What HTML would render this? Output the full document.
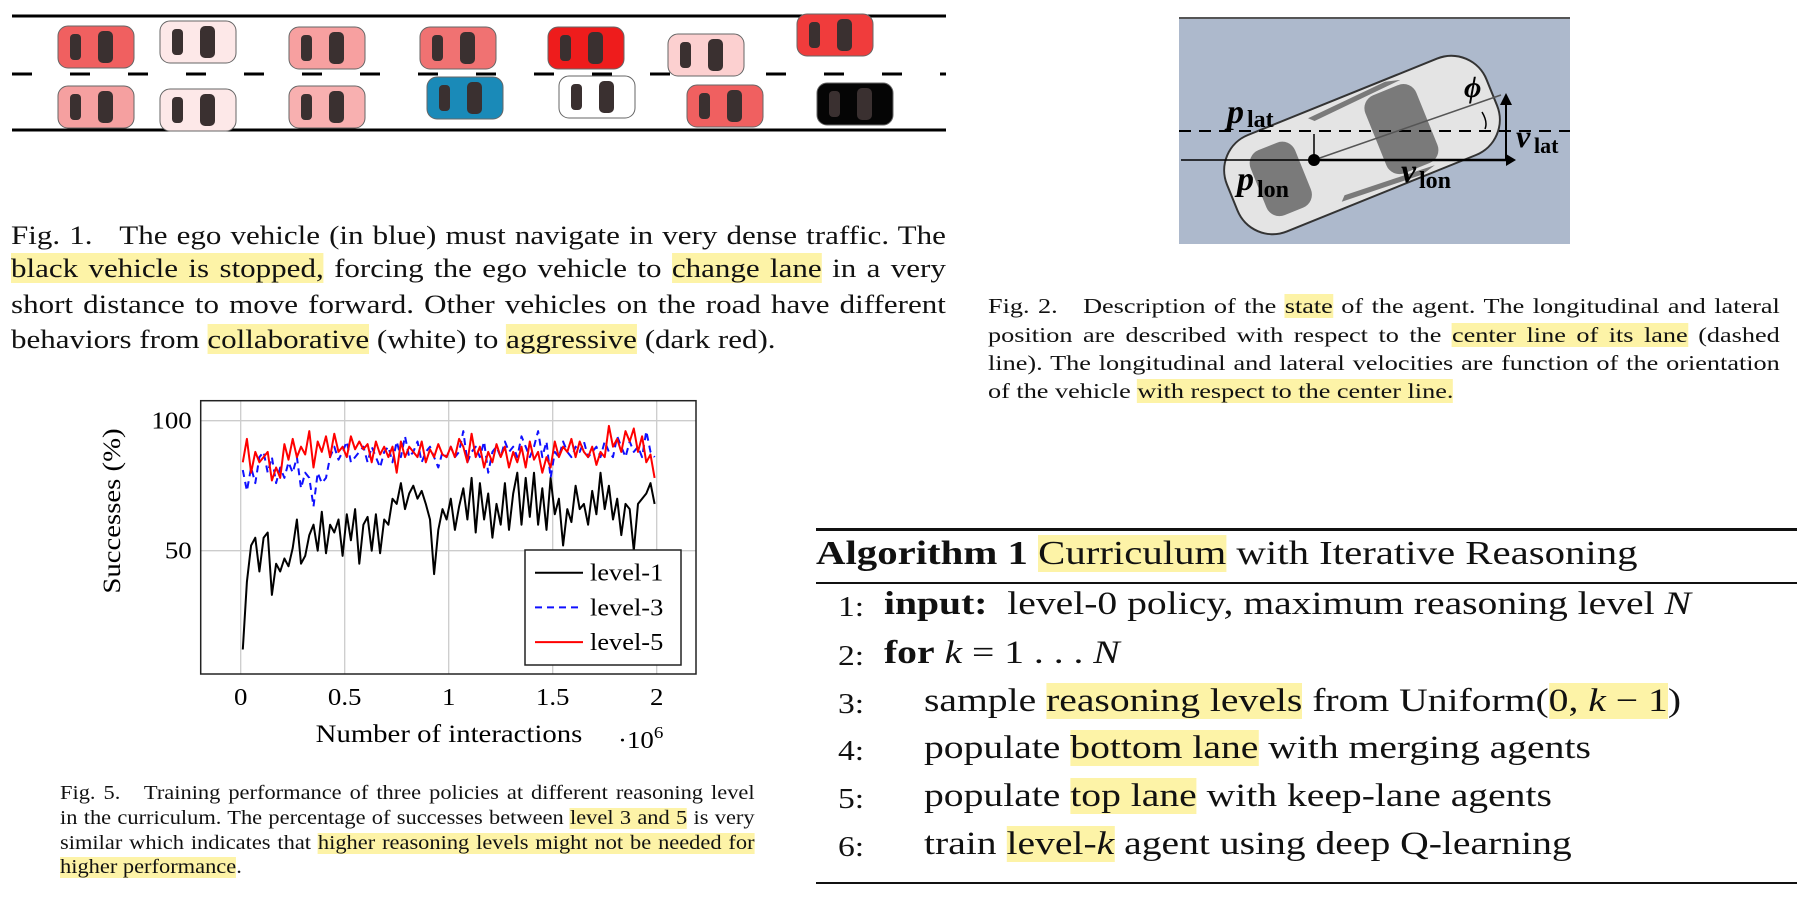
<!DOCTYPE html>
<html><head><meta charset="utf-8">
<style>
html,body{margin:0;padding:0;background:#fff;}
body{width:1809px;height:897px;position:relative;overflow:hidden;font-family:"Liberation Serif",serif;color:#111;}
.ln{position:absolute;white-space:nowrap;text-align:justify;text-align-last:justify;transform-origin:0 0;}
.last{text-align-last:left;}
.hl{background:#fdf3a7;}
.f1 .ln{transform:scaleX(1.17);}
.f2 .ln{transform:scaleX(1.22);}
.f5 .ln{transform:scaleX(1.15);}
.alg .al{position:absolute;white-space:nowrap;transform-origin:0 0;transform:scaleX(1.2);}
svg text{font-family:"Liberation Serif",serif;}
</style></head><body>

<svg style="position:absolute;left:0;top:0" width="960" height="150">
  <line x1="12" y1="16" x2="946" y2="16" stroke="#000" stroke-width="3"/>
  <line x1="12" y1="74" x2="946" y2="74" stroke="#000" stroke-width="3" stroke-dasharray="20,38"/>
  <line x1="12" y1="130" x2="946" y2="130" stroke="#000" stroke-width="3"/>
  <g id="cars"></g>
</svg>

<div class="f1" style="position:absolute;left:11px;top:0;font-size:26.5px;">
  <div class="ln" style="left:0;top:220px;width:799px;">Fig. 1. &nbsp; The ego vehicle (in blue) must navigate in very dense traffic. The</div>
  <div class="ln" style="left:0;top:253px;width:799px;"><span class="hl">black vehicle is stopped,</span> forcing the ego vehicle to <span class="hl">change lane</span> in a very</div>
  <div class="ln" style="left:0;top:289px;width:799px;">short distance to move forward. Other vehicles on the road have different</div>
  <div class="ln last" style="left:0;top:324px;width:799px;">behaviors from <span class="hl">collaborative</span> (white) to <span class="hl">aggressive</span> (dark red).</div>
</div>

<svg style="position:absolute;left:1179px;top:17px" width="391" height="227">
  <rect x="0" y="0" width="391" height="227" fill="#adb9cc"/>
  <line x1="0" y1="1" x2="391" y2="1" stroke="#555" stroke-width="2"/>
  <g transform="translate(183,128) rotate(-22)">
    <rect x="-140" y="-52" width="280" height="104" rx="38" fill="#e4e4e4" stroke="#333" stroke-width="2"/>
    <rect x="-112" y="-34" width="48" height="70" rx="14" fill="#7a7a7a"/>
    <rect x="15" y="-42" width="55" height="84" rx="14" fill="#7a7a7a"/>
    <path d="M-40,-45 L45,-50 L60,-46 L-35,-40 Z" fill="#7a7a7a"/>
    <path d="M-40,45 L45,50 L60,46 L-35,40 Z" fill="#7a7a7a"/>
  </g>
  <line x1="0" y1="114" x2="391" y2="114" stroke="#000" stroke-width="2" stroke-dasharray="12,8"/>
  <line x1="2" y1="143" x2="133" y2="143" stroke="#000" stroke-width="1.5"/>
  <line x1="135" y1="143" x2="327" y2="143" stroke="#000" stroke-width="2.5"/>
  <polygon points="327,137 337,143 327,149" fill="#000"/>
  <line x1="135" y1="117" x2="135" y2="140" stroke="#000" stroke-width="1.5"/>
  <line x1="327" y1="143" x2="327" y2="84" stroke="#000" stroke-width="2"/>
  <polygon points="321,88 327,76 333,88" fill="#000"/>
  <line x1="135" y1="143" x2="322" y2="78" stroke="#555" stroke-width="1.5"/>
  <circle cx="135" cy="143" r="6" fill="#000"/>
  <text x="48" y="106" font-size="34" font-style="italic" font-weight="bold">p</text><text x="68" y="110" font-size="24" font-weight="bold">lat</text>
  <text x="58" y="173" font-size="34" font-style="italic" font-weight="bold">p</text><text x="78" y="180" font-size="24" font-weight="bold">lon</text>
  <text x="222" y="165" font-size="34" font-style="italic" font-weight="bold">v</text><text x="240" y="171" font-size="24" font-weight="bold">lon</text>
  <text x="337" y="130" font-size="32" font-style="italic" font-weight="bold">v</text><text x="355" y="136" font-size="22" font-weight="bold">lat</text>
  <text x="285" y="80" font-size="30" font-style="italic" font-weight="bold">ϕ</text>
  <path d="M303,95 Q309,105 306,112" fill="none" stroke="#000" stroke-width="1.5"/>
</svg>

<div class="f2" style="position:absolute;left:988px;top:0;font-size:21.5px;">
  <div class="ln" style="left:0;top:294px;width:649px;">Fig. 2. &nbsp; Description of the <span class="hl">state</span> of the agent. The longitudinal and lateral</div>
  <div class="ln" style="left:0;top:323px;width:649px;">position are described with respect to the <span class="hl">center line of its lane</span> (dashed</div>
  <div class="ln" style="left:0;top:351px;width:649px;">line). The longitudinal and lateral velocities are function of the orientation</div>
  <div class="ln last" style="left:0;top:379px;width:649px;">of the vehicle <span class="hl">with respect to the center line.</span></div>
</div>

<svg id="chart" style="position:absolute;left:0;top:380px" width="760" height="400"></svg>

<div class="f5" style="position:absolute;left:60px;top:0;font-size:19.5px;">
  <div class="ln" style="left:0;top:783px;width:604px;">Fig. 5. &nbsp; Training performance of three policies at different reasoning level</div>
  <div class="ln" style="left:0;top:808px;width:604px;">in the curriculum. The percentage of successes between <span class="hl">level 3 and 5</span> is very</div>
  <div class="ln" style="left:0;top:833px;width:604px;">similar which indicates that <span class="hl">higher reasoning levels might not be needed for</span></div>
  <div class="ln last" style="left:0;top:857px;width:604px;"><span class="hl">higher performance</span>.</div>
</div>

<div class="alg" style="position:absolute;left:816px;top:0;width:981px;">
  <div style="position:absolute;left:0;top:528px;width:981px;height:3px;background:#111;"></div>
  <div class="al" style="left:0;top:535px;font-size:34px;"><b>Algorithm 1</b> <span class="hl">Curriculum</span> with Iterative Reasoning</div>
  <div style="position:absolute;left:0;top:582px;width:981px;height:2px;background:#111;"></div>
  <div style="position:absolute;left:0;top:0;font-size:33px;white-space:nowrap;">
    <div class="al" style="left:22px;top:588px;font-size:28px;line-height:40px">1:</div>
    <div class="al" style="left:68px;top:586px;"><b>input:</b>&nbsp; level-0 policy, maximum reasoning level <i>N</i></div>
    <div class="al" style="left:22px;top:637px;font-size:28px;line-height:40px">2:</div>
    <div class="al" style="left:68px;top:635px;"><b>for</b> <i>k</i> = 1 . . . <i>N</i></div>
    <div class="al" style="left:22px;top:685px;font-size:28px;line-height:40px">3:</div>
    <div class="al" style="left:108px;top:683px;">sample <span class="hl">reasoning levels</span> from Uniform(<span class="hl">0, <i>k</i> − 1</span>)</div>
    <div class="al" style="left:22px;top:732px;font-size:28px;line-height:40px">4:</div>
    <div class="al" style="left:108px;top:730px;">populate <span class="hl">bottom lane</span> with merging agents</div>
    <div class="al" style="left:22px;top:780px;font-size:28px;line-height:40px">5:</div>
    <div class="al" style="left:108px;top:778px;">populate <span class="hl">top lane</span> with keep-lane agents</div>
    <div class="al" style="left:22px;top:828px;font-size:28px;line-height:40px">6:</div>
    <div class="al" style="left:108px;top:826px;">train <span class="hl">level-<i>k</i></span> agent using deep Q-learning</div>
  </div>
  <div style="position:absolute;left:0;top:882px;width:981px;height:2px;background:#111;"></div>
</div>

<script>
// ---- cars ----
const carXs=[96,198,327,458,586,706,835, 96,198,327,465,597,725,855];
const carYs=[47,42,48,48,48,55,35, 107,110,107,98,97,106,104];
const carColors=["#f06060","#fde8e8","#f7a0a0","#f07272","#ee1c1c","#fcd0d0","#f03c3c","#f5a0a0","#fde8e8","#f8b0b0","#1a8ab8","#ffffff","#f06060","#050505"];
const NS="http://www.w3.org/2000/svg";
const cg=document.getElementById('cars');
for(let i=0;i<carXs.length;i++){
  const g=document.createElementNS(NS,'g');
  
  
  g.setAttribute('transform','translate('+carXs[i]+','+carYs[i]+')');
  const b=document.createElementNS(NS,'rect');
  b.setAttribute('x',-38);b.setAttribute('y',-21);b.setAttribute('width',76);b.setAttribute('height',42);b.setAttribute('rx',10);
  b.setAttribute('fill',carColors[i]);b.setAttribute('stroke','#666');b.setAttribute('stroke-width','1');
  g.appendChild(b);
  const w1=document.createElementNS(NS,'rect');
  w1.setAttribute('x',-26);w1.setAttribute('y',-13);w1.setAttribute('width',11);w1.setAttribute('height',26);w1.setAttribute('rx',4);w1.setAttribute('fill','#3a3030');
  g.appendChild(w1);
  const w2=document.createElementNS(NS,'rect');
  w2.setAttribute('x',2);w2.setAttribute('y',-16);w2.setAttribute('width',15);w2.setAttribute('height',32);w2.setAttribute('rx',5);w2.setAttribute('fill','#3a3030');
  g.appendChild(w2);
  cg.appendChild(g);
}

// ---- chart data ----
const xTicks=[0,0.5,1,1.5,2];
const xTickLabels=["0","0.5","1","1.5","2"];
const yTicks=[50,100];
const yTickLabels=["50","100"];
const seriesNames=["level-1","level-3","level-5"];
const xs=[0.01,0.03,0.05,0.07,0.09,0.11,0.13,0.15,0.17,0.19,0.21,0.23,0.25,0.27,0.29,0.31,0.33,0.35,0.37,0.39,0.41,0.43,0.45,0.47,0.49,0.51,0.53,0.55,0.57,0.59,0.61,0.63,0.65,0.67,0.69,0.71,0.73,0.75,0.77,0.79,0.81,0.83,0.85,0.87,0.89,0.91,0.93,0.95,0.97,0.99,1.01,1.03,1.05,1.07,1.09,1.11,1.13,1.15,1.17,1.19,1.21,1.23,1.25,1.27,1.29,1.31,1.33,1.35,1.37,1.39,1.41,1.43,1.45,1.47,1.49,1.51,1.53,1.55,1.57,1.59,1.61,1.63,1.65,1.67,1.69,1.71,1.73,1.75,1.77,1.79,1.81,1.83,1.85,1.87,1.89,1.91,1.93,1.95,1.97,1.99];
const level1=[12,38,52,55,42,55,57,33,45,42,47,44,51,62,45,48,56,60,50,65,49,60,57,62,48,64,54,66,45,60,63,50,64,49,62,60,70,68,76,66,72,75,70,73,68,62,41,58,66,62,70,58,67,74,62,78,57,76,62,72,55,68,60,76,58,72,80,60,78,63,80,60,74,58,78,64,70,52,66,61,75,66,68,60,73,64,80,66,75,62,70,56,68,66,50,68,70,72,76,68];
const level3=[81,73,82,76,86,88,80,86,76,82,78,84,80,86,74,80,78,67,80,76,78,86,90,85,88,92,84,86,88,90,84,90,86,82,88,90,84,92,86,94,86,88,92,84,88,90,86,82,88,86,90,86,88,96,84,88,90,86,92,80,88,90,86,92,88,90,86,94,90,86,90,96,86,92,78,88,86,92,88,86,90,88,92,86,88,90,86,92,88,86,94,90,86,92,88,90,86,96,88,86];
const level5=[84,93,80,88,84,86,88,77,82,78,91,85,93,86,90,87,96,82,92,88,94,86,95,88,90,86,94,89,92,89,91,84,92,87,90,86,90,80,92,86,90,88,86,92,84,89,86,91,87,86,90,86,93,90,84,95,86,90,82,88,84,91,86,90,82,88,84,90,82,92,85,88,80,86,82,92,86,90,88,93,86,92,88,86,90,83,88,86,98,90,93,88,96,92,97,88,94,84,87,78];

// ---- chart drawing (svg top = 380) ----
const svg=document.getElementById('chart');
const OY=380;
const fl=200.7, fr=696, ft=400.7-OY, fb=674-OY;
function sx(v){return 240.7+v*208;}
function sy(v){return (550.7-OY)-(v-50)*2.6;}
function mk(tag,attrs){const e=document.createElementNS(NS,tag);for(const k in attrs)e.setAttribute(k,attrs[k]);svg.appendChild(e);return e;}
function txt(x,y,s,anchor,size,extra){
  const t=mk('text',{x:0,y:0,'text-anchor':anchor,'font-size':size,transform:'translate('+x+','+y+') '+(extra||'')+' scale('+s+',1)'});
  return t;
}
for(let i=0;i<xTicks.length;i++){
  const l=mk('line',{x1:sx(xTicks[i]),x2:sx(xTicks[i]),y1:ft,y2:fb,stroke:'#ccc','stroke-width':1.3});
  
  
  const t=txt(sx(xTicks[i]),fb+31,1.12,'middle',24);
  
  
  t.textContent=xTickLabels[i];
}
for(let i=0;i<yTicks.length;i++){
  const l=mk('line',{x1:fl,x2:fr,y1:sy(yTicks[i]),y2:sy(yTicks[i]),stroke:'#ccc','stroke-width':1.3});
  
  
  const t=txt(fl-9,sy(yTicks[i])+8,1.12,'end',24);
  
  
  t.textContent=yTickLabels[i];
}
const fr_=mk('rect',{x:fl,y:ft,width:fr-fl,height:fb-ft,fill:'none',stroke:'#222','stroke-width':1.5});


function path(arr,color,dash,name){
  let d='';for(let i=0;i<xs.length;i++){d+=(i?'L':'M')+sx(xs[i]).toFixed(1)+','+sy(arr[i]).toFixed(1);}
  const p=mk('path',{d:d,fill:'none',stroke:color,'stroke-width':2,'stroke-linejoin':'round'});
  if(dash)p.setAttribute('stroke-dasharray',dash);
  
  
}
path(level1,'#000',null,'level-1-line');
path(level3,'#1010ff','7,5','level-3-line');
path(level5,'#ff0000',null,'level-5-line');
const lg=mk('rect',{x:525,y:550-OY,width:156,height:115,fill:'#fff',stroke:'#222','stroke-width':1.5});


const lcol=['#000','#1010ff','#ff0000'];const ldash=[null,'7,5',null];
for(let i=0;i<3;i++){
  const y=572.7-OY+i*34.7;
  const l=mk('line',{x1:535,x2:583,y1:y,y2:y,stroke:lcol[i],'stroke-width':2});
  if(ldash[i])l.setAttribute('stroke-dasharray',ldash[i]);
  
  
  const t=txt(590,y+8,1.1,'start',24);
  
  
  t.textContent=seriesNames[i];
}
const xt=txt(449,742-OY,1.15,'middle',25);


xt.textContent='Number of interactions';
const xm=txt(618,748-OY,1.12,'start',24);


xm.innerHTML='·10<tspan dy="-10" font-size="17">6</tspan>';
const yt=mk('text',{x:0,y:0,'text-anchor':'middle','font-size':25,transform:'translate(120,'+(511-OY)+') rotate(-90) scale(1.15,1)'});


yt.textContent='Successes (%)';
</script>
</body></html>
